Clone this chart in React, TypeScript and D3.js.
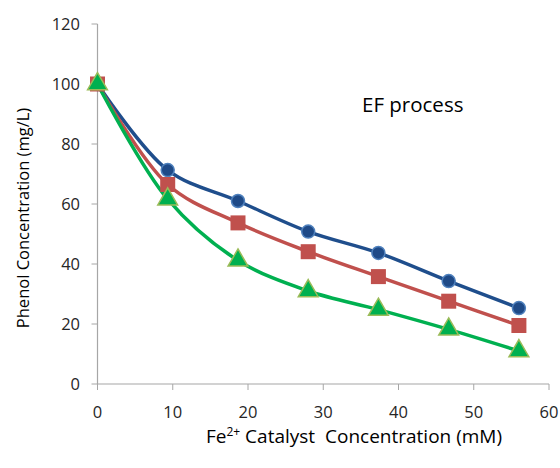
import React, { useEffect, useRef } from "react";
import * as d3 from "d3";

const xValues = [0, 9.33, 18.67, 28, 37.33, 46.67, 56];
const blueValues = [100, 71.3, 61, 50.8, 43.7, 34.3, 25.3];
const redValues = [100, 66.5, 53.7, 44.1, 35.8, 27.6, 19.5];
const greenValues = [100, 61.6, 41.2, 31, 24.8, 18.2, 11];
const xTicks = [0, 10, 20, 30, 40, 50, 60];
const yTicks = [0, 20, 40, 60, 80, 100, 120];

const FONT = "'Open Sans', sans-serif";

const App = () => {
    const ref = useRef<SVGSVGElement>(null);

    useEffect(() => {
        const svg = d3.select(ref.current);
        svg.selectAll("*").remove();

        const x = d3.scaleLinear().domain([0, 60]).range([97.5, 549]);
        const y = d3.scaleLinear().domain([0, 120]).range([384, 24]);
        const axisColor = "#a6a6a6";

        // axes
        svg.append("line")
            .attr("x1", x(0)).attr("x2", x(0))
            .attr("y1", y(120)).attr("y2", y(0))
            .attr("stroke", axisColor).attr("stroke-width", 1.2);
        svg.append("line")
            .attr("x1", x(0)).attr("x2", x(60))
            .attr("y1", y(0)).attr("y2", y(0))
            .attr("stroke", axisColor).attr("stroke-width", 1.2);

        svg.selectAll(".ytick").data(yTicks).enter().append("line")
            .attr("x1", x(0) - 6).attr("x2", x(0))
            .attr("y1", d => y(d)).attr("y2", d => y(d))
            .attr("stroke", axisColor);
        svg.selectAll(".xtick").data(xTicks).enter().append("line")
            .attr("x1", d => x(d)).attr("x2", d => x(d))
            .attr("y1", y(0)).attr("y2", y(0) + 6)
            .attr("stroke", axisColor);

        svg.selectAll(".ylab").data(yTicks).enter().append("text")
            .attr("x", 80).attr("y", d => y(d) + 6)
            .attr("text-anchor", "end")
            .attr("font-family", FONT).attr("font-size", 16.5).attr("fill", "#262626")
            .text(d => d);
        svg.selectAll(".xlab").data(xTicks).enter().append("text")
            .attr("x", d => x(d)).attr("y", 418)
            .attr("text-anchor", "middle")
            .attr("font-family", FONT).attr("font-size", 16.5).attr("fill", "#262626")
            .text(d => d);

        // titles
        svg.append("text")
            .attr("transform", "translate(29,218) rotate(-90)")
            .attr("text-anchor", "middle")
            .attr("font-family", FONT).attr("font-size", 16.5).attr("fill", "#000")
            .text("Phenol Concentration (mg/L)");

        const xt = svg.append("text")
            .attr("x", 354).attr("y", 443)
            .attr("text-anchor", "middle")
            .attr("font-family", FONT).attr("font-size", 19).attr("fill", "#000")
            .attr("xml:space", "preserve");
        xt.append("tspan").text("Fe");
        xt.append("tspan").attr("dy", -7).attr("font-size", 12).text("2+");
        xt.append("tspan").attr("dy", 7).text(" Catalyst  Concentration (mM)");

        svg.append("text")
            .attr("x", 362).attr("y", 112)
            .attr("font-family", FONT).attr("font-size", 20.5).attr("fill", "#000")
            .text("EF process");

        const line = d3.line<number>()
            .x((_, i) => x(xValues[i]))
            .y(d => y(d))
            .curve(d3.curveCatmullRom.alpha(0.5));

        const series = [
            { values: blueValues, stroke: "#1f4e8c" },
            { values: redValues, stroke: "#c0504d" },
            { values: greenValues, stroke: "#00b050" },
        ];
        series.forEach(s => {
            svg.append("path")
                .attr("d", line(s.values))
                .attr("fill", "none")
                .attr("stroke", s.stroke)
                .attr("stroke-width", 3.5);
        });

        // blue circles
        svg.selectAll(".circ").data(blueValues).enter().append("circle")
            .attr("cx", (_, i) => x(xValues[i]))
            .attr("cy", d => y(d))
            .attr("r", 6.5)
            .attr("fill", "#1f4a87")
            .attr("stroke", "#4f81bd").attr("stroke-width", 1.5);

        // red squares
        svg.selectAll(".sq").data(redValues).enter().append("rect")
            .attr("x", (_, i) => x(xValues[i]) - 7.5)
            .attr("y", d => y(d) - 7.5)
            .attr("width", 15).attr("height", 15)
            .attr("fill", "#c0504d");

        // green triangles
        const tri = d3.symbol().type(d3.symbolTriangle).size(170);
        svg.selectAll(".tri").data(greenValues).enter().append("path")
            .attr("d", tri)
            .attr("transform", (d, i) => `translate(${x(xValues[i])},${y(d)})`)
            .attr("fill", "#00b050")
            .attr("stroke", "#9bbb59").attr("stroke-width", 1.5);
    }, []);

    return (
        <svg ref={ref} width={560} height={468}
            style={{ position: "absolute", left: 0, top: 0, background: "#fff" }} />
    );
};

export default App;
